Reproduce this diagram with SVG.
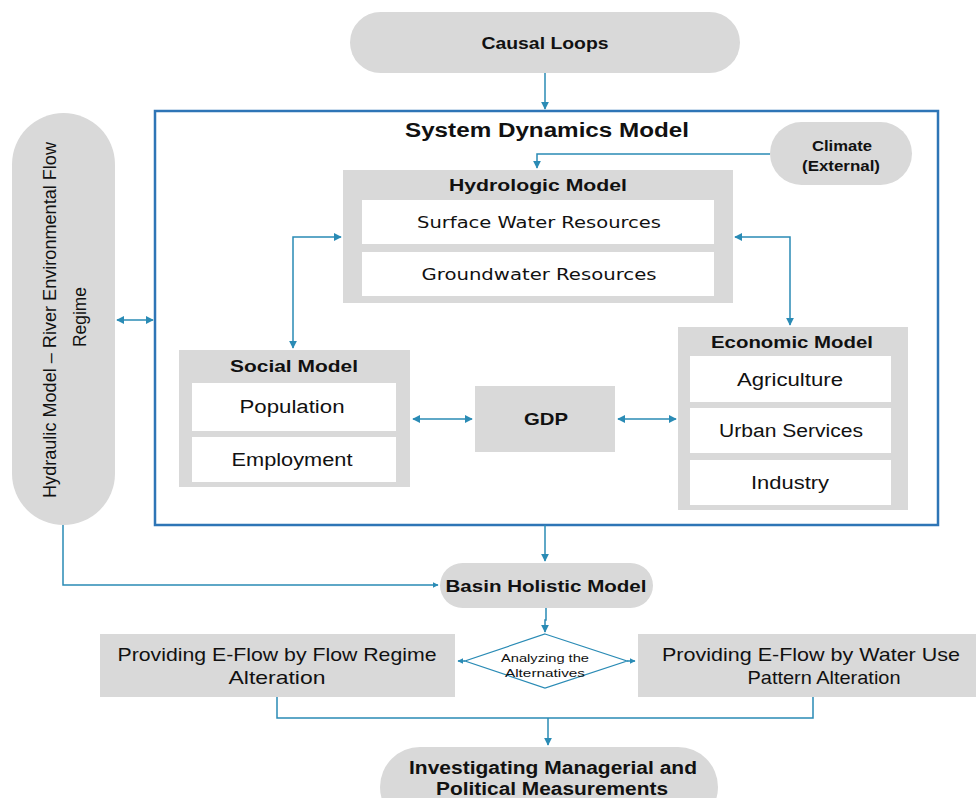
<svg xmlns="http://www.w3.org/2000/svg" width="976" height="798" viewBox="0 0 976 798">
<style>
.g{fill:#d9d9d9}
.w{fill:#ffffff}
.c{fill:none;stroke:#2a8bb5;stroke-width:1.5}
.t{font-family:"Liberation Sans",Arial,sans-serif;fill:#111;text-anchor:middle}
.b{font-weight:bold}
.v{font-family:"DejaVu Sans",Verdana,sans-serif;fill:#111;text-anchor:middle}
</style>
<defs>
<marker id="a" viewBox="0 0 10 10" refX="9" refY="5" markerWidth="8" markerHeight="8" markerUnits="userSpaceOnUse" orient="auto-start-reverse">
<path d="M0,0 L10,5 L0,10 z" fill="#2a8bb5"/>
</marker>
<marker id="s" viewBox="0 0 10 10" refX="9" refY="5" markerWidth="6" markerHeight="6" markerUnits="userSpaceOnUse" orient="auto-start-reverse">
<path d="M0,0 L10,5 L0,10 z" fill="#2a8bb5"/>
</marker>
</defs>
<rect width="976" height="798" fill="#fff"/>

<g id="causal-loops">
<rect class="g" x="350" y="12" width="390" height="61" rx="30.5"/>
<text class="t b" x="545" y="49" font-size="17" textLength="127" lengthAdjust="spacingAndGlyphs">Causal Loops</text>
</g>

<g id="system-dynamics-model">
<rect x="155" y="111" width="783" height="414" fill="none" stroke="#2e75b6" stroke-width="2.5"/>
<text class="t b" x="547" y="137" font-size="20" textLength="284" lengthAdjust="spacingAndGlyphs">System Dynamics Model</text>
</g>

<g id="climate">
<rect class="g" x="770" y="122" width="142" height="63" rx="31.5"/>
<text class="t b" x="842" y="151" font-size="14" textLength="60" lengthAdjust="spacingAndGlyphs">Climate</text>
<text class="t b" x="841" y="171" font-size="14" textLength="78" lengthAdjust="spacingAndGlyphs">(External)</text>
</g>

<g id="hydrologic-model">
<rect class="g" x="343" y="170" width="390" height="133"/>
<text class="t b" x="538" y="191" font-size="17" textLength="178" lengthAdjust="spacingAndGlyphs">Hydrologic Model</text>
<rect class="w" x="362" y="200" width="352" height="44"/>
<text class="v" x="539" y="228" font-size="16" textLength="244" lengthAdjust="spacingAndGlyphs">Surface Water Resources</text>
<rect class="w" x="362" y="252" width="352" height="44"/>
<text class="v" x="539" y="280" font-size="16" textLength="235" lengthAdjust="spacingAndGlyphs">Groundwater Resources</text>
</g>

<g id="social-model">
<rect class="g" x="179" y="350" width="231" height="137"/>
<text class="t b" x="294" y="372" font-size="17" textLength="128" lengthAdjust="spacingAndGlyphs">Social Model</text>
<rect class="w" x="192" y="383" width="204" height="48"/>
<text class="t" x="292" y="413" font-size="18" textLength="105" lengthAdjust="spacingAndGlyphs">Population</text>
<rect class="w" x="192" y="437" width="204" height="45"/>
<text class="t" x="292" y="466" font-size="18" textLength="121" lengthAdjust="spacingAndGlyphs">Employment</text>
</g>

<g id="gdp">
<rect class="g" x="475" y="386" width="140" height="66"/>
<text class="t b" x="546" y="425" font-size="17" textLength="44" lengthAdjust="spacingAndGlyphs">GDP</text>
</g>

<g id="economic-model">
<rect class="g" x="678" y="327" width="230" height="183"/>
<text class="t b" x="792" y="348" font-size="17" textLength="162" lengthAdjust="spacingAndGlyphs">Economic Model</text>
<rect class="w" x="690" y="356" width="201" height="46"/>
<text class="t" x="790" y="386" font-size="18" textLength="106" lengthAdjust="spacingAndGlyphs">Agriculture</text>
<rect class="w" x="690" y="408" width="201" height="45"/>
<text class="t" x="791" y="437" font-size="18" textLength="144" lengthAdjust="spacingAndGlyphs">Urban Services</text>
<rect class="w" x="690" y="460" width="201" height="45"/>
<text class="t" x="790" y="489" font-size="18" textLength="78" lengthAdjust="spacingAndGlyphs">Industry</text>
</g>

<g id="hydraulic-model">
<rect class="g" x="12" y="113" width="103" height="412" rx="51.5"/>
<text class="t" transform="translate(56,320) rotate(-90)" font-size="18" textLength="356" lengthAdjust="spacingAndGlyphs">Hydraulic Model – River Environmental Flow</text>
<text class="t" transform="translate(86,317) rotate(-90)" font-size="18" textLength="60" lengthAdjust="spacingAndGlyphs">Regime</text>
</g>

<g id="basin-holistic-model">
<rect class="g" x="440" y="563" width="213" height="45" rx="22.5"/>
<text class="t b" x="546" y="592" font-size="17" textLength="201" lengthAdjust="spacingAndGlyphs">Basin Holistic Model</text>
</g>

<g id="analyzing-alternatives">
<polygon points="545,634 627,661 545,688 465,661" fill="#fff" stroke="#2a8bb5" stroke-width="1.2"/>
<text class="t" x="545" y="662" font-size="11" textLength="88" lengthAdjust="spacingAndGlyphs">Analyzing the</text>
<text class="t" x="545" y="677" font-size="11" textLength="80" lengthAdjust="spacingAndGlyphs">Alternatives</text>
</g>

<g id="flow-regime-alteration">
<rect class="g" x="100" y="634" width="355" height="63"/>
<text class="t" x="277" y="661" font-size="19" textLength="319" lengthAdjust="spacingAndGlyphs">Providing E-Flow by Flow Regime</text>
<text class="t" x="277" y="684" font-size="19" textLength="97" lengthAdjust="spacingAndGlyphs">Alteration</text>
</g>

<g id="water-use-alteration">
<rect class="g" x="638" y="634" width="338" height="63"/>
<text class="t" x="811" y="661" font-size="19" textLength="298" lengthAdjust="spacingAndGlyphs">Providing E-Flow by Water Use</text>
<text class="t" x="824" y="684" font-size="19" textLength="153" lengthAdjust="spacingAndGlyphs">Pattern Alteration</text>
</g>

<g id="investigating">
<rect class="g" x="380" y="747" width="338" height="80" rx="40"/>
<text class="t b" x="553" y="774" font-size="18" textLength="288" lengthAdjust="spacingAndGlyphs">Investigating Managerial and</text>
<text class="t b" x="552" y="795" font-size="18" textLength="232" lengthAdjust="spacingAndGlyphs">Political Measurements</text>
</g>

<g id="connectors">
<path class="c" d="M545,73 V109" marker-end="url(#a)"/>
<path class="c" d="M770,154 H537 V168" marker-end="url(#a)"/>
<path class="c" d="M341,237 H293 V348" marker-start="url(#a)" marker-end="url(#a)"/>
<path class="c" d="M735,237 H790 V325" marker-start="url(#a)" marker-end="url(#a)"/>
<path class="c" d="M413,419 H472" marker-start="url(#a)" marker-end="url(#a)"/>
<path class="c" d="M618,419 H676" marker-start="url(#a)" marker-end="url(#a)"/>
<path class="c" d="M117,320 H153" marker-start="url(#a)" marker-end="url(#a)"/>
<path class="c" d="M63,525 V585 H438" marker-end="url(#s)"/>
<path class="c" d="M545,525 V561" marker-end="url(#a)"/>
<path class="c" d="M546,608 V620 H545 V632" marker-end="url(#a)"/>
<path class="c" d="M465,661 H458" marker-end="url(#s)"/>
<path class="c" d="M627,661 H635" marker-end="url(#s)"/>
<path class="c" d="M277,697 V718 H813 V697"/>
<path class="c" d="M548,718 V745" marker-end="url(#a)"/>
</g>
</svg>
